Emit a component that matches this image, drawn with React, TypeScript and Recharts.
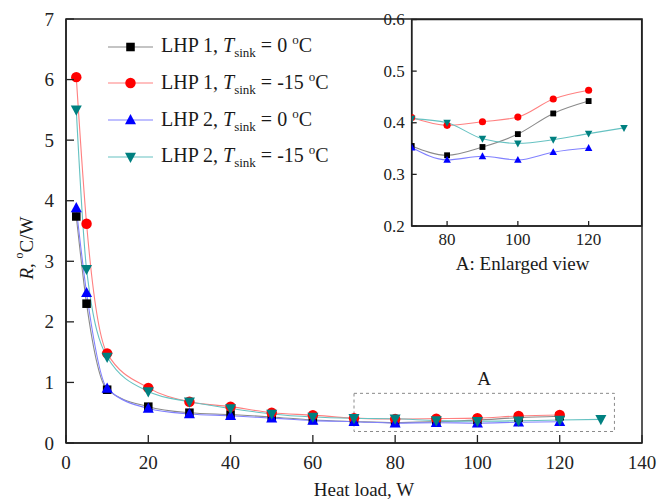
import React from 'react';
import { LineChart, Line, XAxis, YAxis, ReferenceArea } from 'recharts';

const FONT = '"Liberation Serif", "Times New Roman", serif';

// Heat loads (W)
const LOADS = [2.5, 5, 10, 20, 30, 40, 50, 60, 70, 80, 90, 100, 110, 120];
const LOADS_EXT = [2.5, 5, 10, 20, 30, 40, 50, 60, 70, 80, 90, 100, 110, 120, 130];

// Thermal resistance R (°C/W)
const LHP1_0 = [3.74, 2.3, 0.88, 0.6, 0.5, 0.47, 0.43, 0.38, 0.355, 0.337, 0.353, 0.378, 0.418, 0.442];
const LHP1_M15 = [6.04, 3.62, 1.48, 0.91, 0.68, 0.6, 0.5, 0.46, 0.41, 0.395, 0.402, 0.411, 0.446, 0.463];
const LHP2_0 = [3.88, 2.48, 0.9, 0.57, 0.48, 0.45, 0.41, 0.37, 0.352, 0.328, 0.335, 0.328, 0.343, 0.351];
const LHP2_M15 = [5.5, 2.87, 1.42, 0.85, 0.68, 0.57, 0.48, 0.43, 0.408, 0.4, 0.369, 0.36, 0.367, 0.379, 0.39];

const MAIN_X_TICKS = [0, 20, 40, 60, 80, 100, 120, 140];
const MAIN_Y_TICKS = [0, 1, 2, 3, 4, 5, 6, 7];
const INSET_X_TICKS = [80, 100, 120];
const INSET_Y_TICKS = [0.2, 0.3, 0.4, 0.5, 0.6];
const INSET_FROM = 70;

const SERIES = [
  { lhp: '1', temp: '0', kind: 'square', marker: '#000000', line: '#8a8a8a', xs: LOADS, ys: LHP1_0 },
  { lhp: '1', temp: '-15', kind: 'circle', marker: '#ff0000', line: '#ff8080', xs: LOADS, ys: LHP1_M15 },
  { lhp: '2', temp: '0', kind: 'up', marker: '#0000ff', line: '#8080ff', xs: LOADS, ys: LHP2_0 },
  { lhp: '2', temp: '-15', kind: 'down', marker: '#008080', line: '#66c2c2', xs: LOADS_EXT, ys: LHP2_M15 },
];

const toPts = (xs: number[], ys: number[]) => xs.map((x, i) => ({ x, y: ys[i] }));

function Marker({ kind, cx, cy, s, fill }: any) {
  if (kind === 'square') return <rect x={cx - s * 0.45} y={cy - s * 0.45} width={s * 0.9} height={s * 0.9} fill={fill} />;
  if (kind === 'circle') return <circle cx={cx} cy={cy} r={s * 0.55} fill={fill} />;
  if (kind === 'up')
    return <polygon points={`${cx},${cy - s * 0.62} ${cx - s * 0.58},${cy + s * 0.45} ${cx + s * 0.58},${cy + s * 0.45}`} fill={fill} />;
  return <polygon points={`${cx},${cy + s * 0.62} ${cx - s * 0.58},${cy - s * 0.45} ${cx + s * 0.58},${cy - s * 0.45}`} fill={fill} />;
}

const makeDot = (kind: string, s: number, fill: string) => (p: any) => {
  const key = `${kind}-${p.index}`;
  if (p.cx == null || p.cy == null || isNaN(p.cx) || isNaN(p.cy)) return <g key={key} />;
  return (
    <g key={key}>
      <Marker kind={kind} cx={p.cx} cy={p.cy} s={s} fill={fill} />
    </g>
  );
};

const makeYTick = (margin: number, len: number, size: number, fmt: (v: number) => string) => (p: any) => {
  const ax = p.x + margin;
  return (
    <g>
      <line x1={ax} x2={ax + len} y1={p.y} y2={p.y} stroke="#222" strokeWidth={1.3} />
      <text x={p.x} y={p.y} textAnchor="end" dominantBaseline="central" fontSize={size} fontFamily={FONT} fill="#222">
        {fmt(p.payload.value)}
      </text>
    </g>
  );
};

const makeXTick = (margin: number, len: number, size: number) => (p: any) => {
  const ay = p.y - margin;
  return (
    <g>
      <line x1={p.x} x2={p.x} y1={ay} y2={ay - len} stroke="#222" strokeWidth={1.3} />
      <text x={p.x} y={p.y} textAnchor="middle" dominantBaseline="central" fontSize={size} fontFamily={FONT} fill="#222">
        {p.payload.value}
      </text>
    </g>
  );
};

function LegendText({ lhp, temp }: any) {
  return (
    <span style={{ fontFamily: FONT, fontSize: 20, color: '#1a1a1a', whiteSpace: 'nowrap' }}>
      LHP {lhp}, <i>T</i>
      <sub style={{ fontSize: 13, verticalAlign: 'baseline', position: 'relative', top: 5 }}>sink</sub> = {temp}{' '}
      <sup style={{ fontSize: 13, verticalAlign: 'baseline', position: 'relative', top: -8 }}>o</sup>C
    </span>
  );
}

function LegendBox() {
  const rows = [46.7, 83.3, 120, 156.7];
  return (
    <div style={{ position: 'absolute', left: 0, top: 0, width: 0, height: 0 }}>
      {SERIES.map((s, i) => (
        <div key={i} style={{ position: 'absolute', left: 106, top: rows[i] - 12, height: 24, display: 'flex', alignItems: 'center' }}>
          <svg width={50} height={24} style={{ display: 'block' }}>
            <line x1={2} x2={47} y1={12} y2={12} stroke={s.line} strokeWidth={1.2} />
            <Marker kind={s.kind} cx={24.5} cy={12} s={9.5} fill={s.marker} />
          </svg>
          <div style={{ marginLeft: 5, lineHeight: '24px' }}>
            <LegendText lhp={s.lhp} temp={s.temp} />
          </div>
        </div>
      ))}
    </div>
  );
}

const yLabel = () => (
  <text
    transform="translate(26,248) rotate(-90)"
    textAnchor="middle"
    dominantBaseline="central"
    fontFamily={FONT}
    fontSize={19}
    fill="#1a1a1a"
  >
    <tspan fontStyle="italic">R</tspan>
    <tspan>, </tspan>
    <tspan fontSize={12} dy={-7}>o</tspan>
    <tspan dy={7}>C/W</tspan>
  </text>
);

const xLabel = () => (
  <text x={364} y={489} textAnchor="middle" dominantBaseline="central" fontFamily={FONT} fontSize={19} fill="#1a1a1a">
    Heat load, W
  </text>
);

const insetLabel = (props: any) => {
  const vb = props.viewBox || {};
  return (
    <text x={vb.x + vb.width / 2 - 4} y={263} textAnchor="middle" dominantBaseline="central" fontFamily={FONT} fontSize={19} fill="#1a1a1a">
      A: Enlarged view
    </text>
  );
};

export default function App() {
  return (
    <div style={{ position: 'absolute', left: 0, top: 0, width: 672, height: 501, background: '#fff', fontFamily: FONT }}>
      <LineChart
        width={672}
        height={501}
        margin={{ top: 19, right: 30, bottom: 18, left: 0 }}
        style={{ position: 'absolute', left: 0, top: 0 }}
      >
        <XAxis
          type="number"
          dataKey="x"
          domain={[0, 140]}
          ticks={MAIN_X_TICKS}
          interval={0}
          height={40}
          tickSize={0}
          tickMargin={19}
          tick={makeXTick(19, 8, 19)}
          axisLine={{ stroke: '#222', strokeWidth: 1.5 }}
          tickLine={false}
          label={xLabel}
        />
        <YAxis
          type="number"
          dataKey="y"
          domain={[0, 7]}
          ticks={MAIN_Y_TICKS}
          interval={0}
          width={66}
          tickSize={0}
          tickMargin={12}
          tick={makeYTick(12, 8, 19, (v) => String(v))}
          axisLine={{ stroke: '#222', strokeWidth: 1.5 }}
          tickLine={false}
          label={yLabel}
          allowDataOverflow
        />
        <ReferenceArea x1={0} x2={140} y1={0} y2={7} fill="none" stroke="#222" strokeWidth={1.5} />
        <ReferenceArea
          x1={70}
          x2={133.3}
          y1={0.19}
          y2={0.82}
          fill="none"
          stroke="#8a8a8a"
          strokeWidth={1}
          strokeDasharray="3 3"
          label={{ value: 'A', position: 'top', offset: 8, fontSize: 19, fontFamily: FONT, fill: '#1a1a1a' }}
        />
        {SERIES.map((s, i) => (
          <Line
            key={i}
            data={toPts(s.xs, s.ys)}
            dataKey="y"
            type="monotone"
            stroke={s.line}
            strokeWidth={1.1}
            dot={makeDot(s.kind, 9.5, s.marker)}
            activeDot={false}
            isAnimationActive={false}
          />
        ))}
      </LineChart>

      <LegendBox />

      <LineChart
        width={312}
        height={275}
        margin={{ top: 19.5, right: 30.3, bottom: 0, left: 0 }}
        style={{ position: 'absolute', left: 360, top: 0 }}
      >
        <XAxis
          type="number"
          dataKey="x"
          domain={[70, 135]}
          ticks={INSET_X_TICKS}
          interval={0}
          height={49}
          tickSize={0}
          tickMargin={13}
          tick={makeXTick(13, 5, 17)}
          axisLine={{ stroke: '#222', strokeWidth: 1.5 }}
          tickLine={false}
          label={insetLabel}
          allowDataOverflow
        />
        <YAxis
          type="number"
          dataKey="y"
          domain={[0.2, 0.6]}
          ticks={INSET_Y_TICKS}
          interval={0}
          width={51.7}
          tickSize={0}
          tickMargin={7}
          tick={makeYTick(7, 5, 17, (v) => v.toFixed(1))}
          axisLine={{ stroke: '#222', strokeWidth: 1.5 }}
          tickLine={false}
          allowDataOverflow
        />
        <ReferenceArea x1={70} x2={135} y1={0.2} y2={0.6} fill="none" stroke="#222" strokeWidth={1.5} />
        {SERIES.map((s, i) => {
          const pts = toPts(s.xs, s.ys).filter((p) => p.x >= INSET_FROM);
          return (
            <Line
              key={i}
              data={pts}
              dataKey="y"
              type="monotone"
              stroke={s.line}
              strokeWidth={1.1}
              dot={makeDot(s.kind, 6.5, s.marker)}
              activeDot={false}
              isAnimationActive={false}
            />
          );
        })}
      </LineChart>
    </div>
  );
}
